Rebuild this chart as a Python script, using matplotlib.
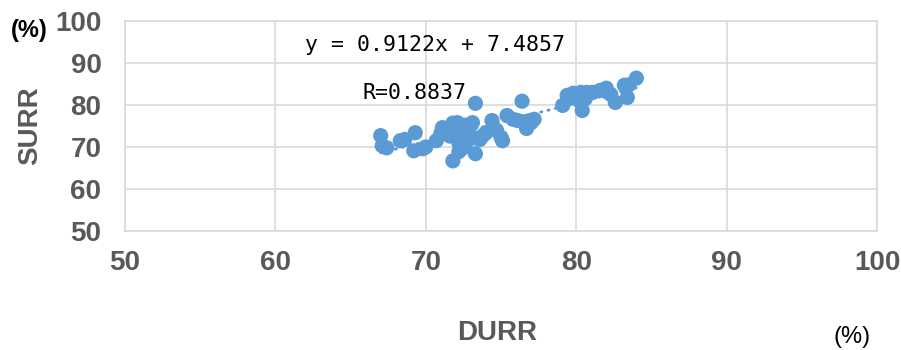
import matplotlib

matplotlib.use("Agg")

import matplotlib.pyplot as plt
import numpy as np

# DURR (%) values
durr = [
    67.0, 67.1, 67.4, 68.3, 68.6, 69.3, 69.2, 69.8, 70.0,
    70.7, 71.0, 71.1, 71.5, 71.8, 72.1, 72.3, 72.6, 72.8, 73.1,
    72.0, 72.4, 71.6, 72.2, 72.7, 73.2, 73.6, 72.5, 71.8, 73.3,
    72.2, 73.3, 73.8, 74.0, 74.4, 74.7, 75.1, 75.0, 75.4, 75.8,
    76.4, 76.1, 76.5, 76.9, 76.7, 77.2, 77.0,
    79.1, 79.4, 79.5, 79.8, 80.3, 80.4, 80.2, 80.7, 80.6, 81.1,
    81.6, 82.0, 82.0, 82.6, 83.2, 83.4, 83.5, 84.0, 82.3,
]
# SURR (%) values
surr = [
    72.7, 70.3, 69.8, 71.5, 71.8, 73.4, 69.1, 69.6, 70.0,
    71.5, 73.2, 74.6, 74.6, 75.7, 75.8, 75.3, 75.2, 74.1, 75.8,
    73.0, 72.3, 72.6, 70.9, 71.2, 72.2, 71.8, 69.8, 66.7, 68.4,
    68.9, 80.4, 72.7, 73.4, 76.3, 74.0, 71.5, 72.3, 77.5, 76.6,
    80.9, 76.3, 76.0, 76.3, 74.4, 76.6, 75.8,
    79.9, 82.3, 81.5, 82.8, 83.0, 78.7, 81.0, 83.0, 81.5, 83.0,
    83.5, 84.0, 83.2, 80.6, 84.7, 81.8, 84.8, 86.4, 82.5,
]
slope = 0.9122
intercept = 7.4857
r_value = 0.8837
ticks = [50, 60, 70, 80, 90, 100]

BLUE = "#5B9BD5"
GRID = "#D9D9D9"
LABEL = "#595959"
FONT = ["Liberation Sans", "DejaVu Sans"]
MONO = ["DejaVu Sans Mono"]

fig = plt.figure(figsize=(9.01, 3.5), dpi=100)
ax = fig.add_axes([125 / 901, 1 - 231 / 350, 752 / 901, 210 / 350])

ax.scatter(durr, surr, s=120, color=BLUE, edgecolors="none", zorder=3)
xs = np.array([min(durr), max(durr)])
ax.plot(xs, slope * xs + intercept, color=BLUE, linewidth=2.0,
        linestyle=(0, (0.5, 2.2)), dash_capstyle="round", zorder=2)

ax.set_xlim(50, 100)
ax.set_ylim(50, 100)
ax.set_xticks(ticks)
ax.set_yticks(ticks)
ax.grid(True, color=GRID, linewidth=1.2)
ax.set_axisbelow(True)
for sp in ax.spines.values():
    sp.set_color(GRID)
    sp.set_linewidth(1.2)
ax.tick_params(length=0, colors=LABEL)
ax.tick_params(axis="y", pad=17)
ax.tick_params(axis="x", pad=14)
for lab in ax.get_xticklabels() + ax.get_yticklabels():
    lab.set_family(FONT)
    lab.set_fontsize(20)
    lab.set_fontweight("bold")
    lab.set_color(LABEL)

fig.text(497 / 901, 1 - 333 / 350, "DURR", family=FONT, fontsize=20,
         fontweight="bold", color=LABEL, ha="center", va="center")
fig.text(30 / 901, 1 - 126 / 350, "SURR", family=FONT, fontsize=20,
         fontweight="bold", color=LABEL, ha="center", va="center", rotation=90)
fig.text(29 / 901, 1 - 30 / 350, "(%)", family=FONT, fontsize=17,
         fontweight="bold", color="black", ha="center", va="center")
fig.text(852 / 901, 1 - 337 / 350, "(%)", family=FONT, fontsize=17,
         color="black", ha="center", va="center")

fig.text(305 / 901, 1 - 45 / 350, f"y = {slope}x + {intercept}", family=MONO,
         fontsize=15.5, color="black", ha="left", va="center")
fig.text(362 / 901, 1 - 93 / 350, f"R={r_value}", family=MONO,
         fontsize=15.5, color="black", ha="left", va="center")

fig.savefig("out.png", dpi=100, facecolor="white")
